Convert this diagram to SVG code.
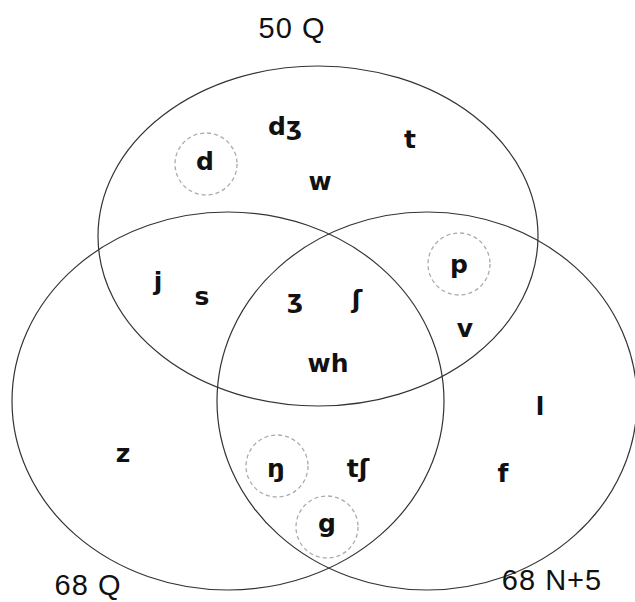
<svg xmlns="http://www.w3.org/2000/svg" width="635" height="602" viewBox="0 0 635 602">
<style>
.set{fill:none;stroke:#333;stroke-width:1.2}
.dash{fill:none;stroke:#aaa;stroke-width:1.3;stroke-dasharray:4 3}
text{fill:#111;text-anchor:middle}
.lbl{font-family:"Liberation Sans",Arial,sans-serif;font-size:29px;letter-spacing:1px}
.ph{font-family:"DejaVu Sans","Liberation Sans",sans-serif;font-size:25px;font-weight:bold}
</style>
<rect width="635" height="602" fill="#fff"/>
<g id="sets">
<g id="set-top"><ellipse class="set" cx="318" cy="236" rx="220" ry="170"/><text class="lbl" x="292" y="38">50 Q</text></g>
<g id="set-left"><ellipse class="set" cx="228" cy="401" rx="216" ry="189"/><text class="lbl" x="88" y="595">68 Q</text></g>
<g id="set-right"><ellipse class="set" cx="427" cy="401" rx="210" ry="189"/><text class="lbl" x="552" y="590">68 N+5</text></g>
</g>
<g id="highlights">
<circle class="dash" cx="206" cy="164" r="31"/>
<circle class="dash" cx="459" cy="264" r="31"/>
<circle class="dash" cx="277" cy="466" r="31"/>
<circle class="dash" cx="327" cy="527" r="31"/>
</g>
<g id="items">
<g id="n-dzh"><text class="ph" x="285" y="135">dʒ</text></g>
<g id="n-t"><text class="ph" x="410" y="148">t</text></g>
<g id="n-d"><text class="ph" x="205" y="170">d</text></g>
<g id="n-w"><text class="ph" x="320" y="190">w</text></g>
<g id="n-j"><text class="ph" x="158" y="290">j</text></g>
<g id="n-s"><text class="ph" x="202" y="305">s</text></g>
<g id="n-zh"><text class="ph" x="295" y="308">ʒ</text></g>
<g id="n-sh"><text class="ph" x="357" y="308">ʃ</text></g>
<g id="n-p"><text class="ph" x="459" y="273">p</text></g>
<g id="n-v"><text class="ph" x="465" y="337">v</text></g>
<g id="n-wh"><text class="ph" x="328" y="372">wh</text></g>
<g id="n-l"><text class="ph" x="540" y="415">l</text></g>
<g id="n-z"><text class="ph" x="123" y="462">z</text></g>
<g id="n-ng"><text class="ph" x="276" y="477">ŋ</text></g>
<g id="n-tsh"><text class="ph" x="358" y="477">tʃ</text></g>
<g id="n-f"><text class="ph" x="503" y="482">f</text></g>
<g id="n-g"><text class="ph" x="327" y="532">g</text></g>
</g>
</svg>
